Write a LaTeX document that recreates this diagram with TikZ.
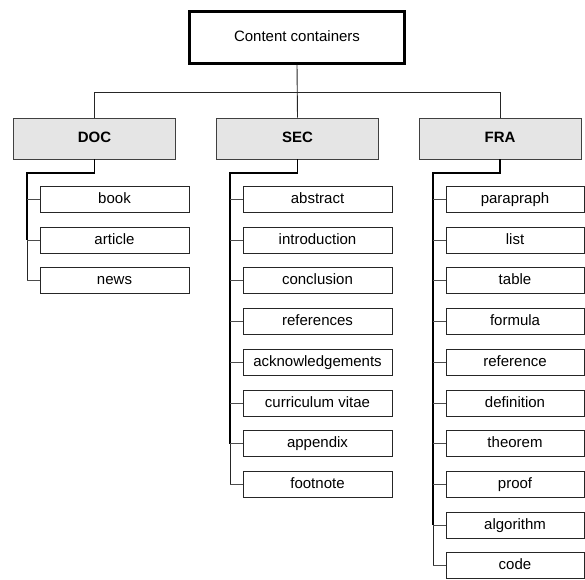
\documentclass[tikz,border=0pt]{standalone}
\usepackage{fontspec}
\setmainfont{Liberation Sans}
\begin{document}
\begin{tikzpicture}[x=1pt,y=-1pt,
  every node/.style={font=\fontsize{15}{18}\selectfont, inner sep=0pt, text height=11pt, text depth=3pt},
  rootbox/.style={draw=black, line width=3pt, minimum width=215pt, minimum height=52pt},
  catbox/.style={draw=black!75, fill=black!10, line width=0.9pt, minimum width=162pt, minimum height=41pt, font=\fontsize{15}{18}\selectfont\bfseries},
  leafbox/.style={draw=black!85, line width=0.9pt, minimum width=149pt, minimum height=26pt},
  narrowleaf/.style={leafbox, minimum width=138pt},
  bus/.style={draw=black!85, line width=0.9pt},
  trunk/.style={draw=black, line width=1.8pt},
  tail/.style={draw=black!85, line width=0.9pt},
  stub/.style={draw=black!70, line width=0.9pt}]
\useasboundingbox (0,0) rectangle (585,579);

% top level and the three categories
\node[rootbox] (root) at (297,37) {Content containers};
\node[catbox] (doc) at (94.5,138.5) {DOC};
\node[catbox] (sec) at (297.5,138.5) {SEC};
\node[catbox] (fra) at (500,138.5) {FRA};

\coordinate (busline) at (297,92);
\draw[bus] (doc.north) -- (doc.north |- busline) -- (fra.north |- busline) -- (fra.north);
\draw[bus] (root.south) -- (sec.north);

% leaves
\foreach \t [count=\i from 0] in {book,article,news}
  \node[leafbox] (d\i) at (114.5,199.5+40.7*\i) {\t};
\foreach \t [count=\i from 0] in {abstract,introduction,conclusion,references,acknowledgements,curriculum vitae,appendix,footnote}
  \node[leafbox] (s\i) at (317.5,199.5+40.7*\i) {\t};
\foreach \t [count=\i from 0] in {parapraph,list,table,formula,reference,definition,theorem,proof,algorithm,code}
  \node[narrowleaf] (f\i) at (515,199.5+40.7*\i) {\t};

% elbows where each trunk turns down
\coordinate (delbow) at (27,173);
\coordinate (selbow) at (230,173);
\coordinate (felbow) at (433,173);

% DOC branch
\draw[trunk] (doc.south) |- (delbow) -- (delbow |- d1.west);
\draw[tail] (delbow |- d1.west) -- (delbow |- d2.west);
\foreach \i in {0,...,2} \draw[stub] (delbow |- d\i.west) -- (d\i.west);

% SEC branch
\draw[trunk] (sec.south) |- (selbow) -- (selbow |- s6.west);
\draw[tail] (selbow |- s6.west) -- (selbow |- s7.west);
\foreach \i in {0,...,7} \draw[stub] (selbow |- s\i.west) -- (s\i.west);

% FRA branch
\draw[trunk] (fra.south) |- (felbow) -- (felbow |- f8.west);
\draw[tail] (felbow |- f8.west) -- (felbow |- f9.west);
\foreach \i in {0,...,9} \draw[stub] (felbow |- f\i.west) -- (f\i.west);
\end{tikzpicture}
\end{document}
